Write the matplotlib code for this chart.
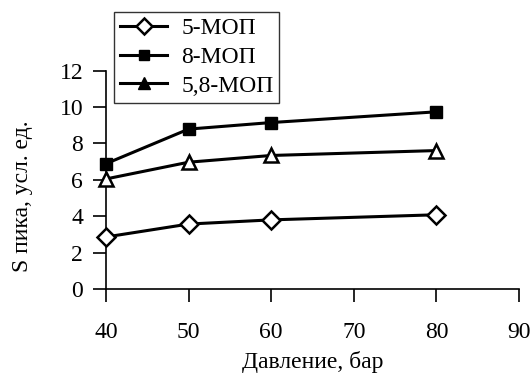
import matplotlib
matplotlib.use("Agg")
import matplotlib.pyplot as plt
from matplotlib.lines import Line2D

plt.rcParams['font.family'] = ['Liberation Serif', 'DejaVu Serif']

pressure = [40, 50, 60, 80]
mop5 = [2.86, 3.57, 3.80, 4.08]
mop8 = [6.89, 8.79, 9.15, 9.74]
mop58 = [6.05, 6.97, 7.34, 7.61]
labels = ['5-МОП', '8-МОП', '5,8-МОП']

fs = 17
fig = plt.figure(figsize=(5.32, 3.73), dpi=100)
ax = fig.add_axes([106 / 532, 1 - 289 / 373, (519 - 106) / 532, (289 - 70.7) / 373])

lw = 2.2
ax.plot(pressure, mop5, color='black', lw=lw, marker='D', ms=9.5,
        mfc='white', mec='black', mew=1.8, clip_on=False, zorder=3)
ax.plot(pressure, mop8, color='black', lw=lw, marker='s', ms=9,
        mfc='black', mec='black', clip_on=False, zorder=3)
ax.plot(pressure, mop58, color='black', lw=lw, marker='^', ms=10,
        mfc='white', mec='black', mew=1.8, clip_on=False, zorder=3)

ax.set_xlim(40, 90)
ax.set_ylim(0, 12)
ax.set_xticks(range(40, 91, 10))
ax.set_yticks(range(0, 13, 2))
ax.spines['top'].set_visible(False)
ax.spines['right'].set_visible(False)
for s in ('left', 'bottom'):
    ax.spines[s].set_linewidth(1.2)
ax.tick_params(axis='both', direction='out', length=9.5, width=1.2,
               labelsize=fs, colors='black')
ax.tick_params(axis='x', pad=14)
ax.tick_params(axis='y', pad=7)
ax.set_xlabel('Давление, бар', fontsize=fs, labelpad=6)
ax.set_ylabel('S пика, усл. ед.', fontsize=fs)
ax.yaxis.set_label_coords(-0.177, 0.424)

handles = [
    Line2D([], [], color='black', lw=lw, marker='D', ms=8, mfc='white', mec='black', mew=1.8),
    Line2D([], [], color='black', lw=lw, marker='s', ms=7, mfc='black', mec='black'),
    Line2D([], [], color='black', lw=lw, marker='^', ms=8, mfc='black', mec='black'),
]
leg = fig.legend(handles, labels, loc='upper left',
                 bbox_to_anchor=(114 / 532, 1 - 12 / 373),
                 bbox_transform=fig.transFigure, fontsize=fs,
                 frameon=True, fancybox=False, borderaxespad=0,
                 handlelength=2.0, handletextpad=0.6, labelspacing=0.3,
                 borderpad=0.25)
leg.get_frame().set_edgecolor('black')
leg.get_frame().set_linewidth(1.0)

fig.savefig('out.png', dpi=100)
